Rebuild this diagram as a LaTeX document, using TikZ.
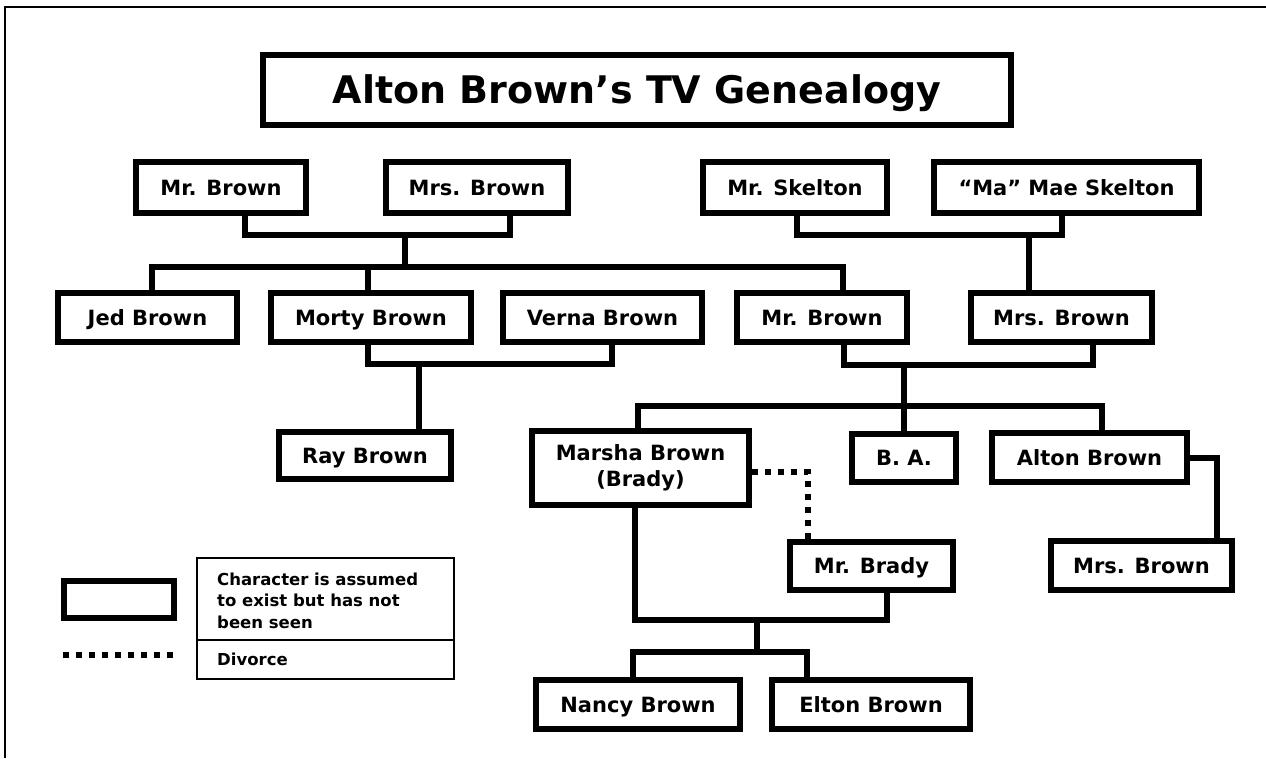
\documentclass[tikz,border=0pt]{standalone}
\usepackage{fontspec}
\setmainfont{DejaVu Sans}

\begin{document}
\begin{tikzpicture}[x=1pt,y=-1pt]
\tikzstyle{personbase}=[draw,line width=6,inner sep=0,
  font=\fontsize{21}{26}\selectfont\bfseries]
\tikzstyle{personbox}=[personbase,text height=15,text depth=0]
\tikzstyle{link}=[line width=6]
\tikzstyle{divorce}=[line width=6,dash pattern=on 6pt off 7pt]
\tikzstyle{thinbox}=[line width=1.5]

\useasboundingbox (0,0) rectangle (1266,758);
%frame of the page
\draw[line width=2.5] (5,758) -- (5,7) -- (1266,7);

%title
\node[personbox,minimum width=748,minimum height=70,
  font=\fontsize{38}{44}\selectfont\bfseries,text height=27]
  (title) at (637,90) {Alton Brown’s TV Genealogy};

%grandparents
\node[personbox,minimum width=170,minimum height=51] (mrbrown) at (221,187.5) {Mr. Brown};
\node[personbox,minimum width=182,minimum height=51] (mrsbrown) at (477,187.5) {Mrs. Brown};
\node[personbox,minimum width=184,minimum height=51] (mrskelton) at (795,187.5) {Mr. Skelton};
\node[personbox,minimum width=265,minimum height=51] (mamae) at (1066.5,187.5) {“Ma” Mae Skelton};

%parents row
\node[personbox,minimum width=179,minimum height=49] (jed) at (147.5,317.5) {Jed Brown};
\node[personbox,minimum width=200,minimum height=49] (morty) at (371,317.5) {Morty Brown};
\node[personbox,minimum width=199,minimum height=49] (verna) at (602.5,317.5) {Verna Brown};
\node[personbox,minimum width=170,minimum height=49] (dad) at (822,317.5) {Mr. Brown};
\node[personbox,minimum width=181,minimum height=49] (mom) at (1061.5,317.5) {Mrs. Brown};

%children row
\node[personbox,minimum width=172,minimum height=47] (ray) at (365,455.5) {Ray Brown};
\node[personbase,align=center,minimum width=217,minimum height=74] (marsha) at (640.5,468)
  {Marsha Brown\\(Brady)};
\node[personbox,minimum width=104,minimum height=48] (ba) at (904,458) {B. A.};
\node[personbox,minimum width=195,minimum height=49] (alton) at (1089.5,457.5) {Alton Brown};
\node[personbox,minimum width=163,minimum height=48] (brady) at (871.5,566) {Mr. Brady};
\node[personbox,minimum width=181,minimum height=49] (wife) at (1141.5,565.5) {Mrs. Brown};
\node[personbox,minimum width=204,minimum height=49] (nancy) at (638,704.5) {Nancy Brown};
\node[personbox,minimum width=198,minimum height=49] (elton) at (871,704.5) {Elton Brown};

%junctions
\coordinate (j1) at (405,235);
\coordinate (k1) at (405,267);
\coordinate (j2) at (1029,235);
\coordinate (j3) at (419,364);
\coordinate (j4) at (904,365);
\coordinate (k4) at (904,406);
\coordinate (j5) at (757,620);
\coordinate (k5) at (757,652);

%brown grandparents
\draw[link] ([xshift=24]mrbrown.south) |- (j1) -| ([xshift=33]mrsbrown.south);
\draw[link] (j1) -- (k1);
\draw[link] ([xshift=4.5]jed.north) |- (k1) -| ([xshift=21]dad.north);
\draw[link] ([xshift=-3]morty.north) |- (k1);

%skelton grandparents
\draw[link] ([xshift=2]mrskelton.south) |- (j2) -| ([xshift=-4.5]mamae.south);
\draw[link] (j2) -- (j2 |- mom.north);

%morty and verna
\draw[link] ([xshift=-3]morty.south) |- (j3) -| ([xshift=9.5]verna.south);
\draw[link] (j3) -- (j3 |- ray.north);

%alton's parents
\draw[link] ([xshift=22]dad.south) |- (j4) -| ([xshift=31.5]mom.south);
\draw[link] (j4) -- (ba.north);
\draw[link] ([xshift=-2.5]marsha.north) |- (k4) -| ([xshift=12.5]alton.north);
\draw[link] (alton.east) -| ([xshift=75.5]wife.north);

%marsha and mr. brady
\draw[divorce] ([yshift=-4]marsha.east) -| ([xshift=-63.5]brady.north);
\draw[link] ([xshift=-5.5]marsha.south) |- (j5) -| ([xshift=15.5]brady.south);
\draw[link] (j5) -- (k5);
\draw[link] ([xshift=-5]nancy.north) |- (k5) -| ([xshift=-64]elton.north);

%legend
\node[draw,line width=6,minimum width=110,minimum height=37] (legbox) at (119,599.5) {};
\coordinate (dotA) at (63,655);
\coordinate (dotB) at (177,655);
\draw[divorce] (dotA) -- (dotB);
\draw[thinbox] (197,558) rectangle (454,679);
\draw[thinbox] (197,640) -- (454,640);
\node[anchor=north west,inner sep=0,align=left,
  font=\fontsize{16.5}{21.5}\selectfont\bfseries] (legseen) at (217,572.5)
  {Character is assumed\\to exist but has not\\been seen};
\node[anchor=base west,inner sep=0,font=\fontsize{16.5}{21.5}\selectfont\bfseries]
  (legdiv) at (217,665) {Divorce};

\end{tikzpicture}
\end{document}
